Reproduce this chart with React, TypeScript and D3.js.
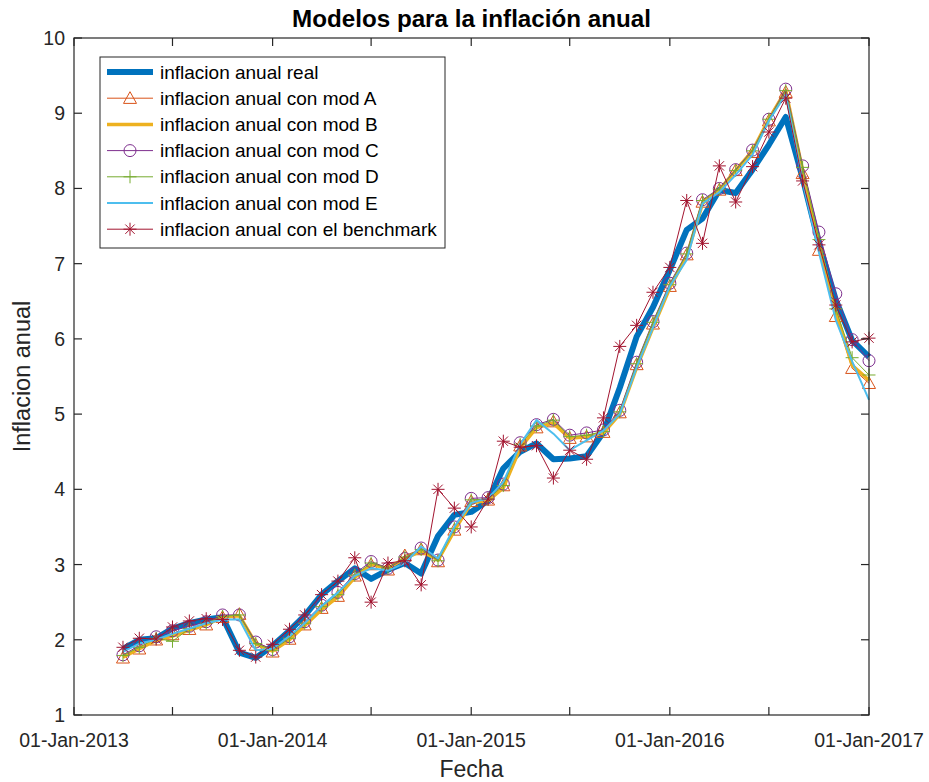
import * as d3 from 'd3'

const width = 929
const height = 782
const margin = { top: 38, right: 60, bottom: 67, left: 74 }

// monthly observations, 01-Apr-2013 .. 01-Jan-2017
const firstMonth = new Date(2013, 3, 1)
const lastMonth = new Date(2017, 0, 1)
const months = d3.timeMonth.range(firstMonth, d3.timeMonth.offset(lastMonth, 1))

const real = [1.88, 2.0, 2.02, 2.15, 2.22, 2.27, 2.3, 1.83, 1.76, 1.92, 2.12, 2.32, 2.6, 2.78, 2.95, 2.81, 2.93, 3.02, 2.88, 3.38, 3.66, 3.7, 3.85, 4.28, 4.5, 4.61, 4.4, 4.41, 4.44, 4.76, 5.35, 6.03, 6.42, 6.92, 7.45, 7.6, 7.98, 7.94, 8.25, 8.58, 8.95, 8.14, 7.27, 6.52, 5.98, 5.76]
const modA = [1.76, 1.88, 2.0, 2.07, 2.14, 2.2, 2.3, 2.34, 1.93, 1.84, 2.01, 2.2, 2.42, 2.58, 2.85, 3.0, 2.93, 3.12, 3.2, 3.04, 3.46, 3.84, 3.86, 4.05, 4.58, 4.82, 4.9, 4.68, 4.7, 4.76, 5.02, 5.66, 6.2, 6.7, 7.12, 7.82, 7.98, 8.24, 8.48, 8.9, 9.28, 8.2, 7.18, 6.3, 5.61, 5.41]
const modB = [1.77, 1.88, 1.99, 2.05, 2.13, 2.2, 2.3, 2.32, 1.95, 1.85, 2.0, 2.19, 2.4, 2.57, 2.83, 3.0, 2.95, 3.08, 3.18, 3.06, 3.45, 3.82, 3.85, 4.02, 4.55, 4.82, 4.88, 4.68, 4.7, 4.75, 5.0, 5.62, 6.15, 6.68, 7.1, 7.8, 7.98, 8.24, 8.5, 8.92, 9.3, 8.24, 7.25, 6.35, 5.65, 5.45]
const modC = [1.8, 1.92, 2.04, 2.12, 2.18, 2.24, 2.33, 2.33, 1.97, 1.87, 2.04, 2.24, 2.46, 2.63, 2.88, 3.04, 2.95, 3.08, 3.22, 3.06, 3.5, 3.88, 3.89, 4.07, 4.62, 4.86, 4.93, 4.72, 4.75, 4.79, 5.05, 5.69, 6.23, 6.74, 7.14, 7.85, 8.0, 8.25, 8.51, 8.92, 9.32, 8.3, 7.42, 6.6, 5.99, 5.71]
const modD = [1.79, 1.9, 2.02, 1.98, 2.15, 2.22, 2.31, 2.33, 1.95, 1.86, 2.02, 2.22, 2.44, 2.6, 2.86, 3.02, 2.95, 3.1, 3.2, 3.05, 3.48, 3.86, 3.87, 4.05, 4.6, 4.84, 4.92, 4.7, 4.72, 4.77, 5.03, 5.67, 6.22, 6.72, 7.13, 7.84, 7.99, 8.24, 8.5, 8.92, 9.3, 8.28, 7.32, 6.4, 5.75, 5.52]
const modE = [1.84, 1.95, 2.0, 2.08, 2.15, 2.22, 2.27, 2.27, 1.86, 1.88, 2.05, 2.22, 2.45, 2.63, 2.85, 2.95, 2.92, 3.02, 3.24, 3.08, 3.5, 3.82, 3.88, 4.1, 4.6, 4.92, 4.74, 4.52, 4.65, 4.78, 5.0, 5.62, 6.15, 6.7, 7.05, 7.8, 7.95, 8.18, 8.45, 8.9, 9.25, 8.1, 7.15, 6.25, 5.7, 5.19]
const bench = [1.9, 2.02, 2.01, 2.17, 2.25, 2.28, 2.27, 1.86, 1.77, 1.94, 2.14, 2.33, 2.6, 2.78, 3.09, 2.5, 3.02, 3.05, 2.73, 4.0, 3.75, 3.5, 3.87, 4.64, 4.56, 4.58, 4.15, 4.52, 4.4, 4.95, 5.9, 6.18, 6.62, 6.95, 7.84, 7.27, 8.3, 7.82, 8.29, 8.75, 9.2, 8.1, 7.25, 6.45, 5.96, 6.01]

const yTicks = [1, 2, 3, 4, 5, 6, 7, 8, 9, 10]

const series = [
  { name: 'inflacion anual real', values: real, color: '#0072BD', width: 6, marker: 'none' },
  { name: 'inflacion anual con mod A', values: modA, color: '#D95319', width: 1, marker: 'triangle' },
  { name: 'inflacion anual con mod B', values: modB, color: '#EDB120', width: 3.5, marker: 'none' },
  { name: 'inflacion anual con mod C', values: modC, color: '#7E2F8E', width: 1, marker: 'circle' },
  { name: 'inflacion anual con mod D', values: modD, color: '#77AC30', width: 1, marker: 'plus' },
  { name: 'inflacion anual con mod E', values: modE, color: '#4DBEEE', width: 2, marker: 'none' },
  { name: 'inflacion anual con el benchmark', values: bench, color: '#A2142F', width: 1, marker: 'star' },
]

const font = 'Arial, "Liberation Sans", Helvetica, sans-serif'
const axisColor = '#262626'

function Marker({ type, x, y, color }: { type: string; x: number; y: number; color: string }) {
  const s = 6.5
  if (type === 'triangle') {
    return (
      <path
        d={`M${x},${y - s} L${x + s},${y + s * 0.8} L${x - s},${y + s * 0.8} Z`}
        fill="none"
        stroke={color}
        strokeWidth={1}
      />
    )
  }
  if (type === 'circle') {
    return <circle cx={x} cy={y} r={6} fill="none" stroke={color} strokeWidth={1} />
  }
  if (type === 'plus') {
    return (
      <path d={`M${x - s},${y} H${x + s} M${x},${y - s} V${y + s}`} stroke={color} strokeWidth={1} />
    )
  }
  if (type === 'star') {
    const k = s * 0.72
    return (
      <path
        d={`M${x - s},${y} H${x + s} M${x},${y - s} V${y + s} M${x - k},${y - k} L${x + k},${y + k} M${x - k},${y + k} L${x + k},${y - k}`}
        stroke={color}
        strokeWidth={1}
      />
    )
  }
  return null
}

function App() {
  const innerLeft = margin.left
  const innerRight = width - margin.right
  const innerTop = margin.top
  const innerBottom = height - margin.bottom

  const xScale = d3.scaleTime().domain([new Date(2013, 0, 1), lastMonth]).range([innerLeft, innerRight])
  const yScale = d3.scaleLinear().domain([1, 10]).range([innerBottom, innerTop])

  const xTicks = d3.timeMonth.every(6)!.range(new Date(2013, 0, 1), d3.timeDay.offset(lastMonth, 1))
  const fmt = d3.timeFormat('%d-%b-%Y')
  const tickLen = 8

  const line = d3
    .line<number>()
    .x((_, i) => xScale(months[i]))
    .y((d) => yScale(d))

  const legendX = 100
  const legendY = 57
  const rowH = 26.2

  return (
    <svg
      width={width}
      height={height}
      style={{ position: 'absolute', left: 0, top: 0, background: '#fff' }}
      fontFamily={font}
    >
      <rect x={0} y={0} width={width} height={height} fill="#fff" />

      {/* title */}
      <text x={(innerLeft + innerRight) / 2} y={27} textAnchor="middle" fontSize={24.2} fontWeight="bold" fill="#000">
        Modelos para la inflación anual
      </text>

      {/* series */}
      {series.map((s) => (
        <g key={s.name}>
          <path d={line(s.values) || ''} fill="none" stroke={s.color} strokeWidth={s.width} strokeLinejoin="round" />
          {s.marker !== 'none' &&
            s.values.map((v, i) => (
              <Marker key={i} type={s.marker} x={xScale(months[i])} y={yScale(v)} color={s.color} />
            ))}
        </g>
      ))}

      {/* box */}
      <rect
        x={innerLeft}
        y={innerTop}
        width={innerRight - innerLeft}
        height={innerBottom - innerTop}
        fill="none"
        stroke={axisColor}
        strokeWidth={1.2}
      />

      {/* y ticks */}
      {yTicks.map((t) => (
        <g key={t}>
          <line x1={innerLeft} x2={innerLeft + tickLen} y1={yScale(t)} y2={yScale(t)} stroke={axisColor} strokeWidth={1.2} />
          <line x1={innerRight} x2={innerRight - tickLen} y1={yScale(t)} y2={yScale(t)} stroke={axisColor} strokeWidth={1.2} />
          <text x={innerLeft - 9} y={yScale(t) + 7} textAnchor="end" fontSize={19.5} fill={axisColor}>
            {t}
          </text>
        </g>
      ))}

      {/* x ticks */}
      {xTicks.map((t) => (
        <g key={+t}>
          <line x1={xScale(t)} x2={xScale(t)} y1={innerBottom} y2={innerBottom - tickLen} stroke={axisColor} strokeWidth={1.2} />
          <line x1={xScale(t)} x2={xScale(t)} y1={innerTop} y2={innerTop + tickLen} stroke={axisColor} strokeWidth={1.2} />
          {t.getMonth() === 0 && (
            <text x={xScale(t)} y={747} textAnchor="middle" fontSize={19.5} fill={axisColor}>
              {fmt(t)}
            </text>
          )}
        </g>
      ))}

      {/* axis labels */}
      <text x={(innerLeft + innerRight) / 2} y={777} textAnchor="middle" fontSize={23} fill={axisColor}>
        Fecha
      </text>
      <text
        transform={`translate(30,${(innerTop + innerBottom) / 2}) rotate(-90)`}
        textAnchor="middle"
        fontSize={23.5}
        fill={axisColor}
      >
        Inflacion anual
      </text>

      {/* legend */}
      <rect x={legendX} y={legendY} width={345} height={191} fill="#fff" stroke={axisColor} strokeWidth={1} />
      {series.map((s, i) => {
        const cy = legendY + 15 + i * rowH
        return (
          <g key={s.name}>
            <line x1={legendX + 7} x2={legendX + 53} y1={cy} y2={cy} stroke={s.color} strokeWidth={s.width} />
            {s.marker !== 'none' && <Marker type={s.marker} x={legendX + 30} y={cy} color={s.color} />}
            <text x={legendX + 60} y={cy + 6.5} fontSize={19} fill="#000">
              {s.name}
            </text>
          </g>
        )
      })}
    </svg>
  )
}

export default App
